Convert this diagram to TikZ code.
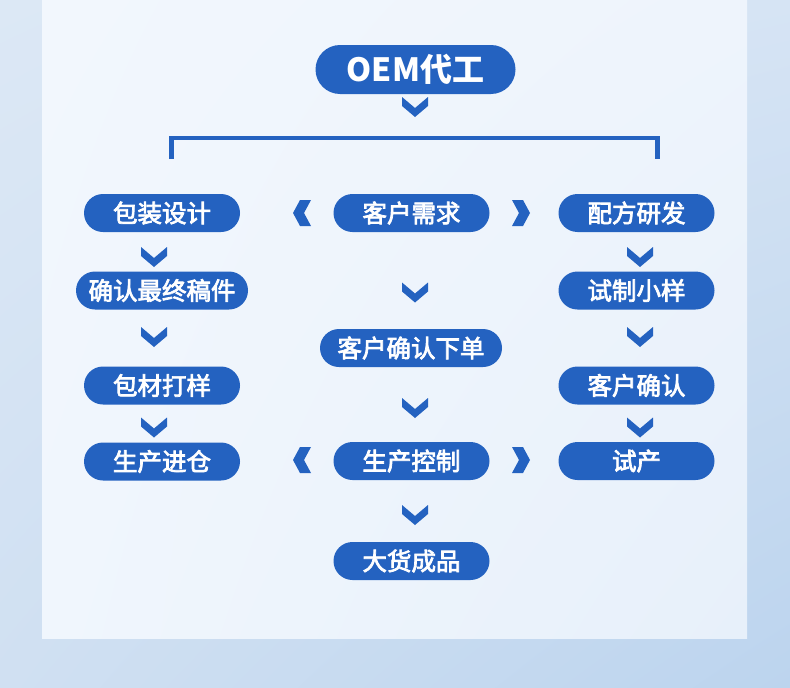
\documentclass[tikz,border=0pt]{standalone}
\usepackage{fontspec}
\usetikzlibrary{shadings}
\newfontfamily\cjk{Noto Sans CJK SC}[FakeBold=3]
\newfontfamily\cjkb{Noto Sans CJK SC}
\definecolor{pillblue}{RGB}{36,98,192}
\definecolor{bgA}{RGB}{220,232,245}
\definecolor{bgB}{RGB}{214,228,244}
\definecolor{bgC}{RGB}{208,224,242}
\definecolor{bgD}{RGB}{188,212,238}
\definecolor{panA}{RGB}{242,247,253}
\definecolor{panB}{RGB}{238,244,252}
\definecolor{panC}{RGB}{240,246,253}
\definecolor{panD}{RGB}{231,240,250}
\tikzset{
  pill/.style={fill=pillblue, text=white, rounded corners=19pt, minimum height=38pt,
    inner sep=0pt, font=\cjk\fontsize{24.5}{26}\selectfont},
  bigpill/.style={pill, rounded corners=24.5pt, minimum height=49pt, minimum width=200pt,
    font=\cjkb\bfseries\fontsize{32}{34}\selectfont},
  w4/.style={minimum width=156pt},
  bracketline/.style={draw=pillblue, line width=4.2pt},
  chevdown/.pic={\fill[pillblue] (-13,-10) -- (0,1) -- (13,-10) -- (13,-1) -- (0,10) -- (-13,-1) -- cycle;},
  chevright/.pic={\fill[pillblue] (-9,-13) -- (2,-13) -- (9,0) -- (2,13) -- (-9,13) -- (-2,0) -- cycle;},
  chevleft/.pic={\fill[pillblue] (9,-13) -- (-2,-13) -- (-9,0) -- (-2,13) -- (9,13) -- (2,0) -- cycle;}
}
\begin{document}
\begin{tikzpicture}[x=1pt,y=-1pt]
\useasboundingbox (0,0) rectangle (790,688);
% background
\shade[upper left=bgA, upper right=bgB, lower left=bgC, lower right=bgD] (0,0) rectangle (790,688);
\shade[upper left=panA, upper right=panB, lower left=panC, lower right=panD] (42,0) rectangle (747,638);

% top
\node[bigpill] (oem) at (415.5,69.5) {OEM代工};
\pic at (415,107) {chevdown};
\coordinate (bl) at (171.5,159);
\coordinate (br) at (657.5,159);
\draw[bracketline] (bl) |- (415,138) -| (br);

% left column
\node[pill,w4] (bzsj) at (162,213) {包装设计};
\node[pill,minimum width=172pt] (qr) at (162,290.5) {确认最终稿件};
\node[pill,w4] (bcdy) at (162,385.5) {包材打样};
\node[pill,w4] (scjc) at (162,461.5) {生产进仓};
\pic at (154,257) {chevdown};
\pic at (154,337) {chevdown};
\pic at (154,427.5) {chevdown};

% middle column
\node[pill,w4] (khxq) at (411.5,213) {客户需求};
\node[pill,minimum width=182pt] (khxd) at (411,348) {客户确认下单};
\node[pill,w4] (sckz) at (411.5,461) {生产控制};
\node[pill,w4] (dhcp) at (411.5,561) {大货成品};
\pic at (415,292.5) {chevdown};
\pic at (415,408) {chevdown};
\pic at (415,515) {chevdown};
\pic at (302,213) {chevleft};
\pic at (521,213) {chevright};
\pic at (302,460) {chevleft};
\pic at (521,460) {chevright};

% right column
\node[pill,w4] (pfyf) at (636.5,213) {配方研发};
\node[pill,w4] (szxy) at (636.5,290.5) {试制小样};
\node[pill,w4] (khqr) at (636.5,385.5) {客户确认};
\node[pill,w4] (sc) at (636.5,461) {试产};
\pic at (640,257) {chevdown};
\pic at (640,337) {chevdown};
\pic at (640,427.5) {chevdown};
\end{tikzpicture}
\end{document}
